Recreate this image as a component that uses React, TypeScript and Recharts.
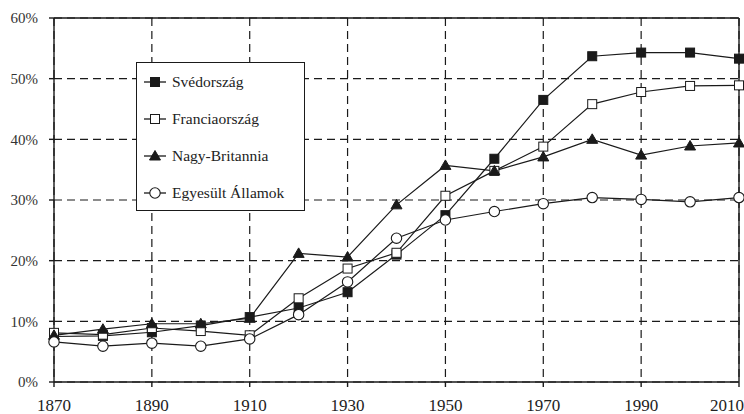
import { CartesianGrid, Line, LineChart, ReferenceLine, XAxis, YAxis } from "recharts";

const years = [1870, 1880, 1890, 1900, 1910, 1920, 1930, 1940, 1950, 1960, 1970, 1980, 1990, 2000, 2010];
const sweden = [7.5, 7.6, 8.2, 9.3, 10.7, 12.2, 14.8, 21.0, 27.5, 36.8, 46.5, 53.7, 54.3, 54.3, 53.3];
const france = [8.1, 7.8, 8.9, 8.4, 7.7, 13.8, 18.7, 21.3, 30.7, 34.8, 38.8, 45.8, 47.8, 48.8, 48.9];
const britain = [7.7, 8.7, 9.6, 9.6, 10.5, 21.2, 20.6, 29.2, 35.7, 34.8, 37.1, 40.0, 37.4, 38.9, 39.4];
const usa = [6.6, 5.9, 6.4, 5.9, 7.1, 11.1, 16.5, 23.7, 26.7, 28.1, 29.4, 30.4, 30.1, 29.7, 30.4];

const xTicks = [1870, 1890, 1910, 1930, 1950, 1970, 1990, 2010];
const yTicks = [0, 10, 20, 30, 40, 50, 60];

const series = [
  { key: "se", name: "Svédország", shape: "square", filled: true },
  { key: "fr", name: "Franciaország", shape: "square", filled: false },
  { key: "uk", name: "Nagy-Britannia", shape: "triangle", filled: true },
  { key: "us", name: "Egyesült Államok", shape: "circle", filled: false },
];

const data = years.map((year, i) => ({
  year,
  se: sweden[i],
  fr: france[i],
  uk: britain[i],
  us: usa[i],
}));

const ink = "#1a1a1a";
const font = "'Liberation Serif', 'DejaVu Serif', serif";

function Marker({ cx, cy, shape, filled }: { cx: number; cy: number; shape: string; filled: boolean }) {
  const fill = filled ? ink : "#fff";
  if (shape === "square") {
    return <rect x={cx - 4.5} y={cy - 4.5} width={9} height={9} fill={fill} stroke={ink} strokeWidth={1} />;
  }
  if (shape === "triangle") {
    return (
      <polygon
        points={`${cx},${cy - 5.5} ${cx + 5.5},${cy + 4} ${cx - 5.5},${cy + 4}`}
        fill={fill}
        stroke={ink}
        strokeWidth={1}
      />
    );
  }
  return <circle cx={cx} cy={cy} r={5.2} fill={fill} stroke={ink} strokeWidth={1.1} />;
}

// legend drawn as an overlay so it does not take room from the plot
function LegendBox() {
  return (
    <div
      style={{
        position: "absolute",
        left: 136,
        top: 62,
        width: 169,
        height: 149,
        border: `1.5px solid ${ink}`,
        background: "#fff",
        fontFamily: font,
        fontSize: 15.5,
        color: "#222",
        boxSizing: "border-box",
      }}
    >
      {series.map((s) => (
        <div key={s.key} style={{ display: "flex", alignItems: "center", height: 37 }}>
          <svg width={32} height={14} style={{ marginLeft: 3 }}>
            <line x1={4} y1={7} x2={26} y2={7} stroke={ink} strokeWidth={1.3} />
            <Marker cx={15} cy={7} shape={s.shape} filled={s.filled} />
          </svg>
          <span>{s.name}</span>
        </div>
      ))}
    </div>
  );
}

export default function App() {
  return (
    <div style={{ position: "absolute", left: 0, top: 0, width: 744, height: 414, background: "#fff" }}>
      <LineChart width={744} height={414} data={data} margin={{ top: 18, right: 5, bottom: 6, left: 8 }}>
        <CartesianGrid stroke={ink} strokeDasharray="8 5" strokeWidth={1.2} />
        <XAxis
          dataKey="year"
          type="number"
          domain={[1870, 2010]}
          ticks={xTicks}
          height={26}
          tickSize={5}
          tickMargin={12}
          stroke={ink}
          strokeWidth={1.4}
          tick={{ fill: "#222", fontSize: 17, fontFamily: font }}
        />
        <YAxis
          type="number"
          domain={[0, 60]}
          ticks={yTicks}
          width={46}
          tickSize={5}
          tickMargin={11}
          stroke={ink}
          strokeWidth={1.4}
          tickFormatter={(v) => `${v}%`}
          tick={{ fill: "#333", fontSize: 15, fontFamily: font }}
        />
        <ReferenceLine y={60} stroke={ink} strokeWidth={1.4} />
        <ReferenceLine x={2010} stroke={ink} strokeWidth={1.4} />
        {series.map((s) => (
          <Line
            key={s.key}
            dataKey={s.key}
            name={s.name}
            type="linear"
            stroke={ink}
            strokeWidth={1.2}
            isAnimationActive={false}
            dot={(p: any) => <Marker key={`${s.key}-${p.index}`} cx={p.cx} cy={p.cy} shape={s.shape} filled={s.filled} />}
            activeDot={false}
          />
        ))}
      </LineChart>
      <LegendBox />
    </div>
  );
}
